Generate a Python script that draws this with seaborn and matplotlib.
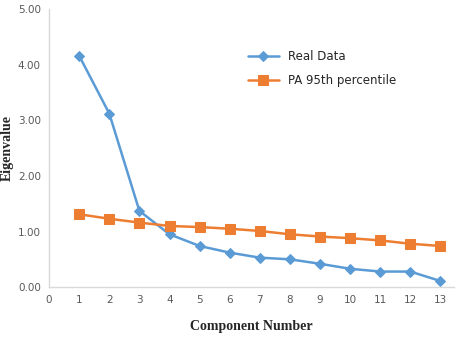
import matplotlib
matplotlib.use("Agg")
import matplotlib.pyplot as plt
import seaborn as sns
import pandas as pd

components = list(range(1, 14))
realData = [4.16, 3.12, 1.37, 0.95, 0.74, 0.62, 0.53, 0.50, 0.42, 0.33, 0.28, 0.28, 0.11]
pa95 = [1.31, 1.23, 1.16, 1.10, 1.08, 1.05, 1.01, 0.95, 0.91, 0.88, 0.84, 0.78, 0.74]
yTicks = [0, 1, 2, 3, 4, 5]
xTicks = list(range(0, 14))

sns.set_style("white")

fig = plt.figure(figsize=(4.59, 3.37), dpi=100)
ax = fig.add_axes([0.107, 0.148, 0.882, 0.825])

df = pd.DataFrame({'component': components, 'Real Data': realData, 'PA 95th percentile': pa95})

sns.lineplot(data=df, x='component', y='Real Data', ax=ax, color='#5B9BD5',
             marker='D', markersize=5.5, markeredgecolor='#5B9BD5', linewidth=1.8,
             label='Real Data')
sns.lineplot(data=df, x='component', y='PA 95th percentile', ax=ax, color='#ED7D31',
             marker='s', markersize=7, markeredgecolor='#ED7D31', linewidth=1.8,
             label='PA 95th percentile')

ax.set(xlim=(0, 13.45), ylim=(0, 5))
ax.set_xticks(xTicks)
ax.set_yticks(yTicks)
ax.set_yticklabels([f'{v:.2f}' for v in yTicks])
ax.tick_params(axis='both', labelsize=7.5, colors='#595959', length=0, pad=6)

sns.despine(ax=ax)
for s in ['left', 'bottom']:
  ax.spines[s].set_color('#D9D9D9')
  ax.spines[s].set_linewidth(1)

ax.set_xlabel('Component Number', fontsize=10, fontweight='bold',
              family='Liberation Serif')
ax.set_ylabel('Eigenvalue', fontsize=10, fontweight='bold',
              family='Liberation Serif')
ax.yaxis.set_label_coords(-0.088, 0.5)
ax.xaxis.set_label_coords(0.5, -0.118)

ax.legend(loc='upper left', bbox_to_anchor=(0.465, 0.89), frameon=False,
          fontsize=8.5, handlelength=2.6, labelspacing=0.9)

plt.savefig("out.png", dpi=100)
plt.close()
